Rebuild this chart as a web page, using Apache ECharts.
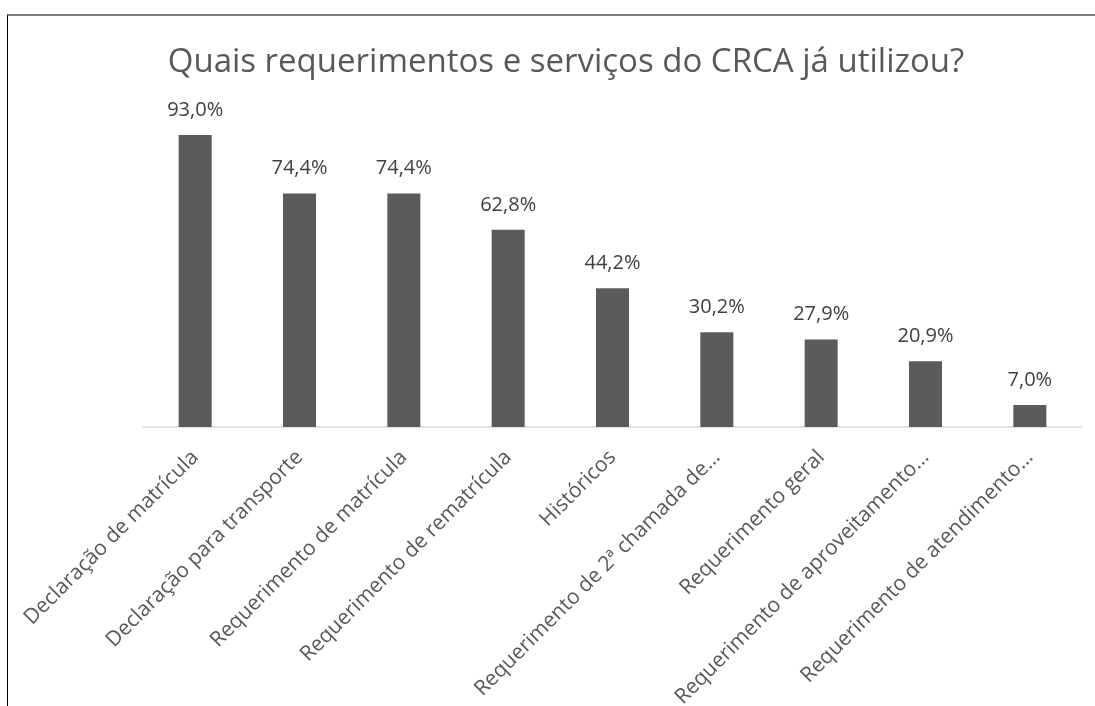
<!DOCTYPE html>
<html>
<head>
<meta charset="utf-8">
<script src="https://cdn.jsdelivr.net/npm/echarts@6/dist/echarts.min.js"></script>
<style>
  html, body { margin: 0; padding: 0; background: #fff; }
  #frame { position: absolute; left: 7px; top: 14px; width: 1095px; height: 700px;
           border-top: 2px solid #7f7f7f; border-left: 1px solid #000; }
  #chart { width: 1095px; height: 706px; position: absolute; left: 0; top: 0; }
</style>
</head>
<body>
<div id="frame"></div>
<div id="chart"></div>
<script>
// categorias e percentuais
let categorias = [
  'Declaração de matrícula',
  'Declaração para transporte',
  'Requerimento de matrícula',
  'Requerimento de rematrícula',
  'Históricos',
  'Requerimento de 2ª chamada de…',
  'Requerimento geral',
  'Requerimento de aproveitamento…',
  'Requerimento de atendimento…'
];
let valores = [93.0, 74.4, 74.4, 62.8, 44.2, 30.2, 27.9, 20.9, 7.0];

let myChart = echarts.init(document.getElementById('chart'));
myChart.setOption({
  animation: false,
  textStyle: { fontFamily: 'Open Sans' },
  title: {
    text: 'Quais requerimentos e serviços do CRCA já utilizou?',
    left: 561,
    top: 41,
    textAlign: 'center',
    textStyle: { fontFamily: 'Open Sans', fontSize: 33, fontWeight: 'normal', color: '#595959' }
  },
  grid: { left: 143, right: 13, top: 113, bottom: 279, outerBoundsMode: 'none' },
  xAxis: {
    type: 'category',
    data: categorias,
    axisLine: { lineStyle: { color: '#d9d9d9', width: 1.5 } },
    axisTick: { show: false },
    axisLabel: {
      interval: 0,
      rotate: 45,
      fontSize: 21,
      color: '#595959',
      margin: 27
    }
  },
  yAxis: {
    type: 'value',
    min: 0,
    max: 100,
    show: false
  },
  series: [{
    type: 'bar',
    data: valores,
    barWidth: 33,
    itemStyle: { color: '#5b5b5b' },
    label: {
      show: true,
      position: 'top',
      distance: 15,
      fontSize: 20,
      color: '#404040',
      formatter: function (p) { return p.value.toFixed(1).replace('.', ',') + '%'; }
    }
  }]
});
</script>
</body>
</html>
